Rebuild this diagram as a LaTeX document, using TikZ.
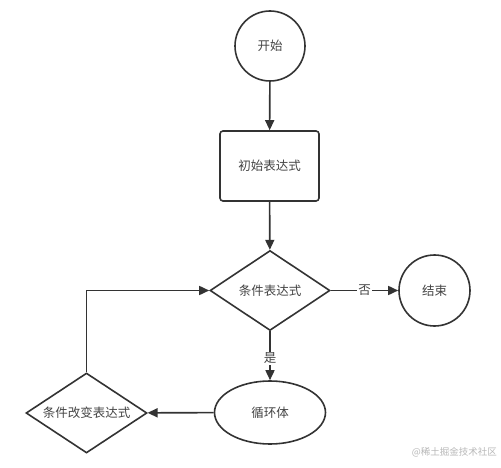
\documentclass[tikz,border=0pt]{standalone}
\usepackage{fontspec}
\newfontfamily\cjk{Noto Sans CJK SC}
\usetikzlibrary{arrows.meta,shapes.geometric}
\definecolor{ln}{HTML}{333333}
\definecolor{tx}{HTML}{444444}
\begin{document}
\begin{tikzpicture}[x=1pt,y=-1pt,
  base/.style={draw=ln,line width=1.6pt,fill=white,text=tx,font=\cjk\fontsize{12.5}{14}\selectfont,inner sep=0pt},
  circ/.style={base,circle,minimum size=70pt},
  boxnode/.style={base,rectangle,rounded corners=3pt,minimum width=99pt,minimum height=70pt},
  dia/.style={base,diamond,aspect=1.5,minimum width=120pt,minimum height=80pt},
  ell/.style={base,ellipse,minimum width=111pt,minimum height=63pt},
  conn/.style={draw=ln,line width=1.6pt,-{Triangle[length=10pt,width=9pt]}},
  lbl/.style={fill=white,text=tx,font=\cjk\fontsize{12.5}{14}\selectfont,inner sep=1pt}]
\useasboundingbox (0,0) rectangle (501,468);
\fill[white] (0,0) rectangle (501,468);
\node[circ] (start) at (270,46) {开始};
\node[boxnode] (init) at (269.5,166) {初始表达式};
\node[dia] (cond) at (270,290.5) {条件表达式};
\node[circ,minimum size=71pt] (end) at (434.5,290.5) {结束};
\node[ell] (body) at (270,412.5) {循环体};
\node[dia,minimum width=121pt] (chg) at (86.5,413) {条件改变表达式};
\coordinate (turn) at (86.5,290.5);
\draw[conn] (start) -- (init);
\draw[conn] (init) -- (cond);
\draw[conn] (cond) -- node[lbl,pos=0.5] (no) {否} (end);
\draw[conn] (cond) -- node[lbl,pos=0.55] (yes) {是} (body);
\draw[conn] (body) -- (chg);
\draw[conn] (chg.north) -- (turn) -- (cond.west);
\node[text=black!28,font=\cjk\fontsize{9.5}{11}\selectfont,anchor=east,inner sep=0pt] (wm) at (497,452) {@稀土掘金技术社区};
\end{tikzpicture}
\end{document}
